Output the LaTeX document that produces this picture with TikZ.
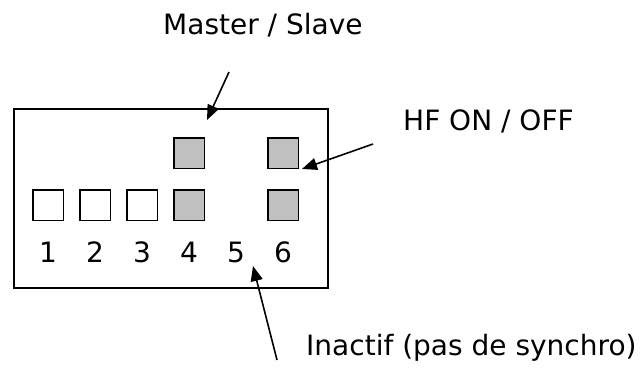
\documentclass[tikz,border=0pt]{standalone}
\usepackage{fontspec}
\setmainfont{DejaVu Sans}
\usetikzlibrary{arrows.meta}
\definecolor{swgray}{HTML}{C0C0C0}
\tikzset{
  swbox/.style={draw,line width=1.5pt,minimum size=30.5pt,inner sep=0pt},
  swon/.style={swbox,fill=swgray},
  lbl/.style={font=\fontsize{28}{34}\selectfont,inner sep=0pt,anchor=base west},
  pointer/.style={line width=1.6pt,-{Triangle[length=15pt,width=12pt]}}
}

\begin{document}
\begin{tikzpicture}[x=1pt,y=-1pt]
  \useasboundingbox (0,0) rectangle (644,381);
  \draw[line width=2pt] (14,109) rectangle (328,288);
  \foreach \i in {1,2,3}
    \node[swbox] (s\i) at (1+47*\i,205) {};
  \node[swon] (s4) at (189,205) {};
  \node[swon] (s6) at (283,205) {};
  \node[swon] (t4) at (189,153) {};
  \node[swon] (t6) at (283,153) {};
  \foreach \i in {1,...,6}
    \node[lbl,anchor=base] (n\i) at (1+47*\i,262) {\i};
  \node[lbl] (master) at (163,34) {Master / Slave};
  \node[lbl] (hf) at (403,130) {HF ON / OFF};
  \node[lbl] (inactif) at (306,355) {Inactif (pas de synchro)};
  \coordinate (mfrom) at (229,72);
  \coordinate (mto) at (207,120);
  \coordinate (hfrom) at (373,144);
  \coordinate (ifrom) at (277,360);
  \coordinate (ito) at (253,266);
  \draw[pointer] (mfrom) -- (mto);
  \draw[pointer] (hfrom) -- ([xshift=3pt]t6.south east);
  \draw[pointer] (ifrom) -- (ito);
\end{tikzpicture}
\end{document}
